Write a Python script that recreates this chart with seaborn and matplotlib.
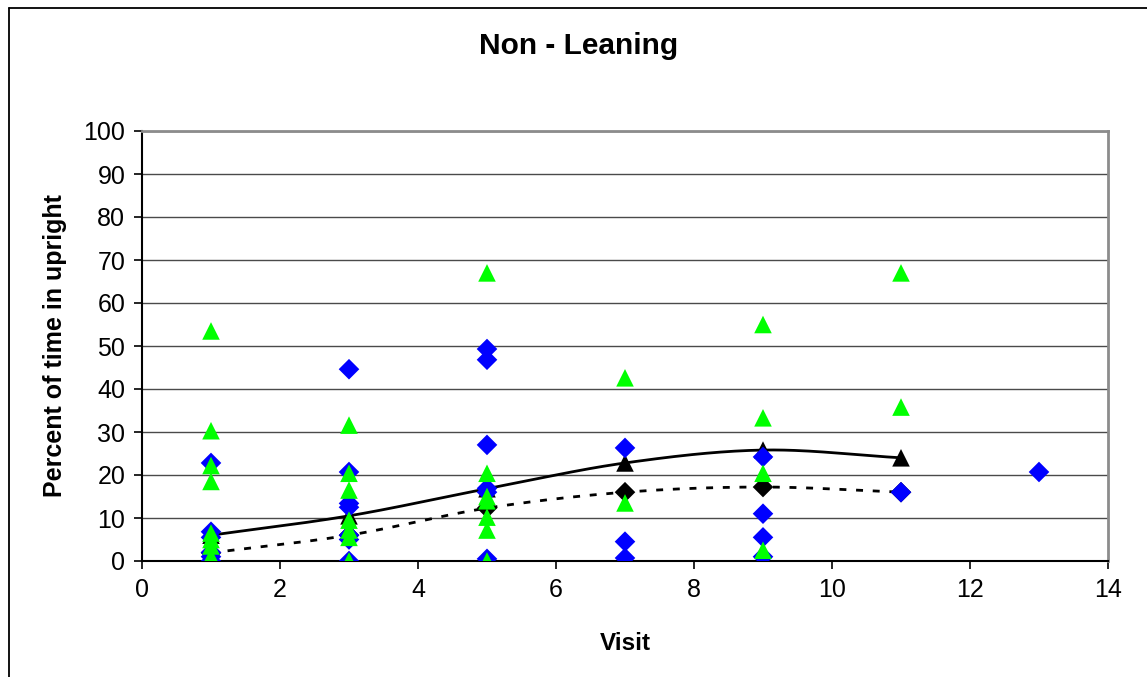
import numpy as np
import pandas as pd
import matplotlib
matplotlib.use("Agg")
import matplotlib.pyplot as plt
from matplotlib.lines import Line2D
import seaborn as sns

# ---- data ----
green_x = [1, 1, 1, 1, 1, 1, 1, 1, 1, 1,
           3, 3, 3, 3, 3, 3, 3,
           5, 5, 5, 5, 5, 5, 5,
           7, 7,
           9, 9, 9, 9,
           11, 11]
green_y = [53.5, 30.3, 22.2, 18.5, 6.5, 5.0, 3.5, 1.0, 0.0, 0.0,
           31.6, 20.4, 16.5, 9.5, 7.2, 5.5, 0.0,
           67.0, 20.4, 15.0, 14.0, 10.2, 7.2, 0.0,
           42.6, 13.5,
           55.0, 33.3, 20.4, 2.5,
           67.0, 35.8]

blue_x = [1, 1, 1, 1, 1, 1,
          3, 3, 3, 3, 3, 3, 3,
          5, 5, 5, 5, 5, 5,
          7, 7, 7,
          9, 9, 9, 9,
          11,
          13]
blue_y = [22.8, 6.8, 5.5, 2.0, 1.0, 0.0,
          44.6, 20.7, 13.4, 12.5, 6.0, 5.0, 0.0,
          49.3, 46.8, 27.0, 16.9, 16.0, 0.5,
          26.3, 4.5, 0.7,
          24.2, 11.0, 5.5, 1.0,
          16.0,
          20.7]

mean_visits = [1, 3, 5, 7, 9, 11]
mean_green = [6.0, 10.5, 16.8, 22.8, 25.8, 24.0]
mean_blue = [1.9, 6.0, 12.3, 16.0, 17.2, 16.0]

title = "Non - Leaning"
xlabel = "Visit"
ylabel = "Percent of time in upright"
x_ticks = [0, 2, 4, 6, 8, 10, 12, 14]
y_ticks = [0, 10, 20, 30, 40, 50, 60, 70, 80, 90, 100]


def smooth(xs, ys, n=40):
    """Catmull-Rom rendering of a line through the given points (Excel smoothed line)."""
    xs = np.asarray(xs, float)
    ys = np.asarray(ys, float)
    px = np.concatenate([[2 * xs[0] - xs[1]], xs, [2 * xs[-1] - xs[-2]]])
    py = np.concatenate([[2 * ys[0] - ys[1]], ys, [2 * ys[-1] - ys[-2]]])
    ox, oy = [], []
    t = np.linspace(0, 1, n)
    for i in range(1, len(px) - 2):
        for p, out in ((px, ox), (py, oy)):
            p0, p1, p2, p3 = p[i - 1], p[i], p[i + 1], p[i + 2]
            seg = 0.5 * ((2 * p1) + (-p0 + p2) * t + (2 * p0 - 5 * p1 + 4 * p2 - p3) * t ** 2
                         + (-p0 + 3 * p1 - 3 * p2 + p3) * t ** 3)
            out.extend(seg)
    return np.array(ox), np.array(oy)


sns.set_style("white")
plt.rcParams['font.family'] = ['Liberation Sans', 'DejaVu Sans']
plt.rcParams.update({"text.color": "black", "axes.labelcolor": "black",
                     "xtick.color": "black", "ytick.color": "black"})

W, H = 1147, 677
fig = plt.figure(figsize=(W / 100, H / 100), dpi=100)
ax = fig.add_axes([142 / W, 1 - 561 / H, 966 / W, 430 / H])

# outer chart border (left and top visible)
fig.add_artist(Line2D([8.5 / W, 8.5 / W], [0, 1 - 7.5 / H], transform=fig.transFigure,
                      color="black", lw=1.3))
fig.add_artist(Line2D([8.5 / W, 1], [1 - 7.5 / H, 1 - 7.5 / H], transform=fig.transFigure,
                      color="black", lw=1.3))

for yv in y_ticks[1:]:
    ax.axhline(yv, color="#4a4a4a", lw=1.0, zorder=1)

df_b = pd.DataFrame({"Visit": blue_x, "Pct": blue_y})
df_g = pd.DataFrame({"Visit": green_x, "Pct": green_y})
df_mg = pd.DataFrame({"Visit": mean_visits, "Pct": mean_green})
df_mb = pd.DataFrame({"Visit": mean_visits, "Pct": mean_blue})

sns.scatterplot(data=df_mb, x="Visit", y="Pct", marker="D", s=110, color="black",
                edgecolor="none", ax=ax, zorder=3, legend=False)
sns.scatterplot(data=df_mg, x="Visit", y="Pct", marker="^", s=160, color="black",
                edgecolor="none", ax=ax, zorder=3, legend=False)
sns.scatterplot(data=df_b, x="Visit", y="Pct", marker="D", s=110, color="#0000FF",
                edgecolor="none", ax=ax, zorder=4, legend=False)
sns.scatterplot(data=df_g, x="Visit", y="Pct", marker="^", s=160, color="#00FF00",
                edgecolor="none", ax=ax, zorder=5, legend=False)

sx, sy = smooth(mean_visits, mean_green)
ax.plot(sx, sy, color="black", lw=2.0, zorder=2.5)
bx, by = smooth(mean_visits, mean_blue)
ax.plot(bx, by, color="black", lw=2.0, ls=(0, (2.5, 3.5)), zorder=2.5)

ax.set_xlim(0, 14)
ax.set_ylim(0, 100)
ax.set_xticks(x_ticks)
ax.set_yticks(y_ticks)
ax.tick_params(axis="both", direction="out", length=6, width=1.2, color="black",
               labelsize=18, pad=6, left=True, bottom=True)
for side in ("left", "bottom"):
    ax.spines[side].set_color("black")
    ax.spines[side].set_linewidth(1.5)
for side in ("top", "right"):
    ax.spines[side].set_visible(True)
    ax.spines[side].set_color("#8c8c8c")
    ax.spines[side].set_linewidth(2.0)

ax.set_xlabel(xlabel, fontsize=17.5, fontweight="bold", labelpad=22)
ax.set_ylabel(ylabel, fontsize=18, fontweight="bold", labelpad=12)
fig.text(579 / W, 1 - 46 / H, title, ha="center", va="center", fontsize=21.5, fontweight="bold")

fig.savefig("out.png", dpi=100)
